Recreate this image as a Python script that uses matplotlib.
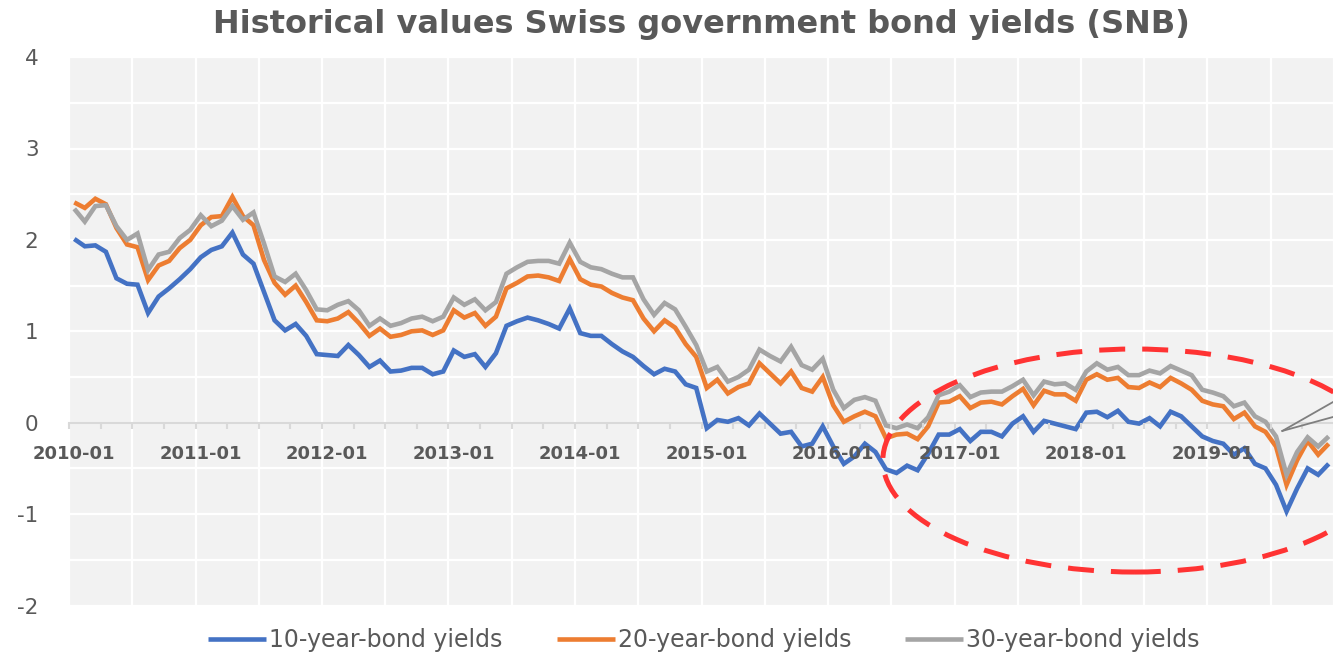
import matplotlib
matplotlib.use("Agg")
import matplotlib.pyplot as plt
import numpy as np
from matplotlib.patches import Ellipse

# monthly SNB yields, 2010-01 .. 2019-12
months = [f"{y}-{m:02d}" for y in range(2010, 2020) for m in range(1, 13)]

yield_10y = [
    2.01, 1.93, 1.94, 1.87, 1.58, 1.52, 1.51, 1.20, 1.38, 1.47, 1.57, 1.68,
    1.81, 1.89, 1.93, 2.08, 1.84, 1.74, 1.43, 1.12, 1.01, 1.08, 0.95, 0.75,
    0.74, 0.73, 0.85, 0.74, 0.61, 0.68, 0.56, 0.57, 0.60, 0.60, 0.53, 0.56,
    0.79, 0.72, 0.75, 0.61, 0.76, 1.06, 1.11, 1.15, 1.12, 1.08, 1.03, 1.25,
    0.98, 0.95, 0.95, 0.86, 0.78, 0.72, 0.62, 0.53, 0.59, 0.56, 0.42, 0.38,
    -0.06, 0.03, 0.01, 0.05, -0.03, 0.10, -0.01, -0.12, -0.10, -0.26, -0.23, -0.04,
    -0.26, -0.45, -0.37, -0.23, -0.32, -0.51, -0.55, -0.47, -0.52, -0.34, -0.13, -0.13,
    -0.07, -0.20, -0.10, -0.10, -0.15, -0.01, 0.07, -0.10, 0.02, -0.01, -0.04, -0.07,
    0.11, 0.12, 0.06, 0.13, 0.01, -0.01, 0.05, -0.04, 0.12, 0.07, -0.04, -0.15,
    -0.20, -0.23, -0.35, -0.28, -0.45, -0.50, -0.68, -0.97, -0.72, -0.50, -0.57, -0.45,
]

yield_20y = [
    2.41, 2.35, 2.45, 2.39, 2.13, 1.95, 1.92, 1.56, 1.72, 1.77, 1.91, 2.00,
    2.16, 2.25, 2.26, 2.47, 2.26, 2.16, 1.78, 1.53, 1.40, 1.50, 1.32, 1.12,
    1.11, 1.14, 1.21, 1.09, 0.95, 1.03, 0.94, 0.96, 1.00, 1.01, 0.96, 1.01,
    1.23, 1.15, 1.20, 1.06, 1.16, 1.47, 1.53, 1.60, 1.61, 1.59, 1.55, 1.79,
    1.57, 1.51, 1.49, 1.42, 1.37, 1.34, 1.14, 1.00, 1.12, 1.04, 0.86, 0.72,
    0.38, 0.47, 0.32, 0.39, 0.43, 0.65, 0.54, 0.43, 0.56, 0.38, 0.34, 0.50,
    0.19, 0.01, 0.07, 0.12, 0.07, -0.17, -0.13, -0.12, -0.18, -0.04, 0.22, 0.23,
    0.29, 0.16, 0.22, 0.23, 0.20, 0.29, 0.37, 0.19, 0.35, 0.31, 0.31, 0.24,
    0.47, 0.53, 0.47, 0.49, 0.39, 0.38, 0.44, 0.39, 0.49, 0.43, 0.36, 0.24,
    0.20, 0.18, 0.04, 0.11, -0.04, -0.10, -0.26, -0.68, -0.41, -0.20, -0.35, -0.23,
]

yield_30y = [
    2.34, 2.20, 2.37, 2.38, 2.15, 2.00, 2.07, 1.67, 1.84, 1.87, 2.02, 2.11,
    2.27, 2.15, 2.21, 2.37, 2.22, 2.30, 1.96, 1.60, 1.54, 1.63, 1.45, 1.24,
    1.23, 1.29, 1.33, 1.23, 1.06, 1.14, 1.06, 1.09, 1.14, 1.16, 1.11, 1.16,
    1.37, 1.29, 1.35, 1.23, 1.32, 1.63, 1.70, 1.76, 1.77, 1.77, 1.74, 1.97,
    1.76, 1.70, 1.68, 1.63, 1.59, 1.59, 1.35, 1.18, 1.31, 1.24, 1.05, 0.85,
    0.56, 0.61, 0.45, 0.50, 0.58, 0.80, 0.73, 0.67, 0.83, 0.63, 0.58, 0.70,
    0.36, 0.16, 0.25, 0.28, 0.24, -0.03, -0.06, -0.02, -0.06, 0.06, 0.30, 0.34,
    0.41, 0.28, 0.33, 0.34, 0.34, 0.40, 0.47, 0.30, 0.45, 0.42, 0.43, 0.36,
    0.56, 0.65, 0.58, 0.61, 0.52, 0.52, 0.57, 0.54, 0.62, 0.57, 0.52, 0.36,
    0.33, 0.29, 0.18, 0.22, 0.07, 0.01, -0.15, -0.57, -0.32, -0.16, -0.26, -0.15,
]

series_labels = ["10-year-bond yields", "20-year-bond yields", "30-year-bond yields"]
series_colors = ["#4472C4", "#ED7D31", "#A5A5A5"]
y_ticks = [-2, -1, 0, 1, 2, 3, 4]

# highlight ring around the negative-rate period and the callout pointer
ring_center = (100.6, -0.414)
ring_size = (47.8, 2.44)
pointer_tip = (114.6, -0.09)
pointer_ends = [(125.0, 0.594), (125.0, 0.24)]

TEXT = "#595959"
W, H = 1333, 656

fig = plt.figure(figsize=(W / 100, H / 100), dpi=100)
ax = fig.add_axes([69 / W, 50.5 / H, 1265 / W, 548.4 / H])
ax.set_facecolor("#F2F2F2")

x = np.arange(len(months))
ax.set_xlim(-0.5, len(months) - 0.5)
ax.set_ylim(-2, 4)

# white grid: every 0.5 on y, every 6 months on x
for gy in np.arange(-2, 4.01, 0.5):
    ax.axhline(gy, color="white", lw=1.6, zorder=1)
for gx in np.arange(-0.5, len(months), 6):
    ax.axvline(gx, color="white", lw=1.6, zorder=1)

for vals, lab, col in zip([yield_10y, yield_20y, yield_30y], series_labels, series_colors):
    ax.plot(x, vals, color=col, lw=3.3, label=lab, zorder=2,
            solid_joinstyle="miter", solid_capstyle="butt")

for side in ["left", "right", "top"]:
    ax.spines[side].set_visible(False)
ax.spines["bottom"].set_position(("data", 0))
ax.spines["bottom"].set_color("#D9D9D9")
ax.spines["bottom"].set_linewidth(1.5)
ax.spines["bottom"].set_zorder(1.8)

ax.set_xticks(x[::12])
ax.set_xticklabels(months[::12], fontsize=13, fontweight="bold", color=TEXT)
ax.set_xticks(np.arange(-0.5, len(months), 3), minor=True)
ax.tick_params(axis="x", which="major", length=0, pad=16)
ax.tick_params(axis="x", which="minor", length=4, width=1.5, color="#D9D9D9")
ax.xaxis.set_zorder(3)

ax.set_yticks(y_ticks)
ax.set_yticklabels([str(v) for v in y_ticks], fontsize=15.5, color=TEXT)
ax.tick_params(axis="y", length=0, pad=22)

ring = Ellipse(ring_center, ring_size[0], ring_size[1], fill=False,
               edgecolor="#FF3333", lw=3.6, linestyle=(0, (5.2, 3.4)),
               zorder=4, clip_on=False)
ax.add_patch(ring)
for end in pointer_ends:
    ax.plot([pointer_tip[0], end[0]], [pointer_tip[1], end[1]],
            color="#7F7F7F", lw=1.3, zorder=4, clip_on=False)

fig.text(701 / W, 1 - 25 / H, "Historical values Swiss government bond yields (SNB)",
         ha="center", va="center", fontsize=23, fontweight="bold", color=TEXT)

fig.legend(loc="center", bbox_to_anchor=(704 / W, 16 / H), ncol=3, frameon=False,
           fontsize=17, labelcolor=TEXT, handlelength=2.45, handletextpad=0.12,
           columnspacing=2.3)

fig.savefig("out.png", dpi=100)
